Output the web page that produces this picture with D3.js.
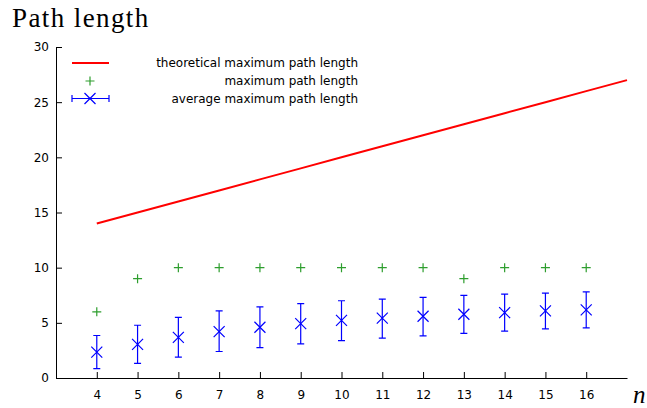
<!DOCTYPE html>
<html>
<head>
<meta charset="utf-8">
<script src="https://cdn.jsdelivr.net/npm/d3@7"></script>
<style>
  body { margin: 0; background: #fff; }
  svg { display: block; }
  .tick text { font-family: "DejaVu Sans", sans-serif; font-size: 12px; fill: #000; }
  .legend text { font-family: "DejaVu Sans", sans-serif; font-size: 12px; fill: #000; }
</style>
</head>
<body>
<svg id="chart" width="647" height="408"></svg>
<script>
// data
const theoN = [4, 5, 6, 7, 8, 9, 10, 11, 12, 13, 14, 15, 16, 17];
const theoMax = [14, 15, 16, 17, 18, 19, 20, 21, 22, 23, 24, 25, 26, 27];

const nValues = [4, 5, 6, 7, 8, 9, 10, 11, 12, 13, 14, 15, 16];
const maxPath = [6, 9, 10, 10, 10, 10, 10, 10, 10, 9, 10, 10, 10];
const avgPath = [2.35, 3.05, 3.68, 4.2, 4.6, 4.93, 5.22, 5.42, 5.6, 5.78, 5.92, 6.08, 6.18];
const avgLow  = [0.85, 1.32, 1.9, 2.4, 2.75, 3.1, 3.38, 3.62, 3.82, 4.05, 4.25, 4.45, 4.55];
const avgHigh = [3.85, 4.78, 5.5, 6.08, 6.45, 6.75, 7.0, 7.15, 7.3, 7.48, 7.6, 7.7, 7.8];

const yTicks = [0, 5, 10, 15, 20, 25, 30];

const svg = d3.select("#chart");

const x = d3.scaleLinear().domain([3, 17]).range([56, 627]);
const y = d3.scaleLinear().domain([0, 30]).range([378, 47]);

// title
svg.append("text")
    .attr("x", 12).attr("y", 27)
    .style("font-family", "'Liberation Serif', serif")
    .style("font-size", "27px")
    .style("letter-spacing", "1.4px")
    .text("Path length");

// axes
const xAxis = d3.axisBottom(x).tickValues(nValues).tickSize(-6).tickPadding(12).tickSizeOuter(0);
svg.append("g")
    .attr("transform", `translate(0,${y(0)})`)
    .call(xAxis)
    .call(g => g.select(".domain").attr("stroke", "#000"));

const yAxis = d3.axisLeft(y).tickValues(yTicks).tickSize(-6).tickPadding(7).tickSizeOuter(0);
svg.append("g")
    .attr("transform", `translate(${x(3)},0)`)
    .call(yAxis)
    .call(g => g.select(".domain").attr("stroke", "#000"));

svg.append("text")
    .attr("x", 633).attr("y", 403)
    .style("font-family", "'Liberation Serif', serif")
    .style("font-style", "italic")
    .style("font-size", "25px")
    .text("n");

// theoretical line
const line = d3.line().x((d, i) => x(theoN[i])).y(d => y(d));
svg.append("path")
    .datum(theoMax)
    .attr("d", line)
    .attr("fill", "none")
    .attr("stroke", "#ff0000")
    .attr("stroke-width", 2);

const green = "#2e9e2e";
const blue = "#0000ff";

function plus(g, cx, cy, r) {
    g.append("path")
        .attr("d", `M${cx - r},${cy}H${cx + r}M${cx},${cy - r}V${cy + r}`)
        .attr("stroke", green).attr("stroke-width", 1.2).attr("fill", "none");
}
function cross(g, cx, cy, r) {
    g.append("path")
        .attr("d", `M${cx - r},${cy - r}L${cx + r},${cy + r}M${cx - r},${cy + r}L${cx + r},${cy - r}`)
        .attr("stroke", blue).attr("stroke-width", 1.2).attr("fill", "none");
}

// maximum path length
const gMax = svg.append("g");
maxPath.forEach((v, i) => plus(gMax, x(nValues[i]), y(v), 4.5));

// average with error bars
const gAvg = svg.append("g");
avgPath.forEach((v, i) => {
    const cx = x(nValues[i]);
    gAvg.append("path")
        .attr("d", `M${cx},${y(avgLow[i])}V${y(avgHigh[i])}M${cx - 3.5},${y(avgLow[i])}H${cx + 3.5}M${cx - 3.5},${y(avgHigh[i])}H${cx + 3.5}`)
        .attr("stroke", blue).attr("stroke-width", 1.2).attr("fill", "none");
    cross(gAvg, cx, y(v), 5.5);
});

// legend
const leg = svg.append("g").attr("class", "legend");
const legX = 358;
leg.append("line").attr("x1", 72).attr("x2", 109).attr("y1", 63).attr("y2", 63)
    .attr("stroke", "#ff0000").attr("stroke-width", 2);
plus(leg, 90, 81, 4.5);
leg.append("path")
    .attr("d", "M72,98.5H109M72,95V102M109,95V102")
    .attr("stroke", blue).attr("stroke-width", 1.2).attr("fill", "none");
cross(leg, 90, 98.5, 5.5);

const labels = ["theoretical maximum path length", "maximum path length", "average maximum path length"];
labels.forEach((t, i) => {
    leg.append("text")
        .attr("x", legX).attr("y", [63, 81, 98.5][i])
        .attr("dy", "0.35em")
        .attr("text-anchor", "end")
        .text(t);
});
</script>
</body>
</html>
